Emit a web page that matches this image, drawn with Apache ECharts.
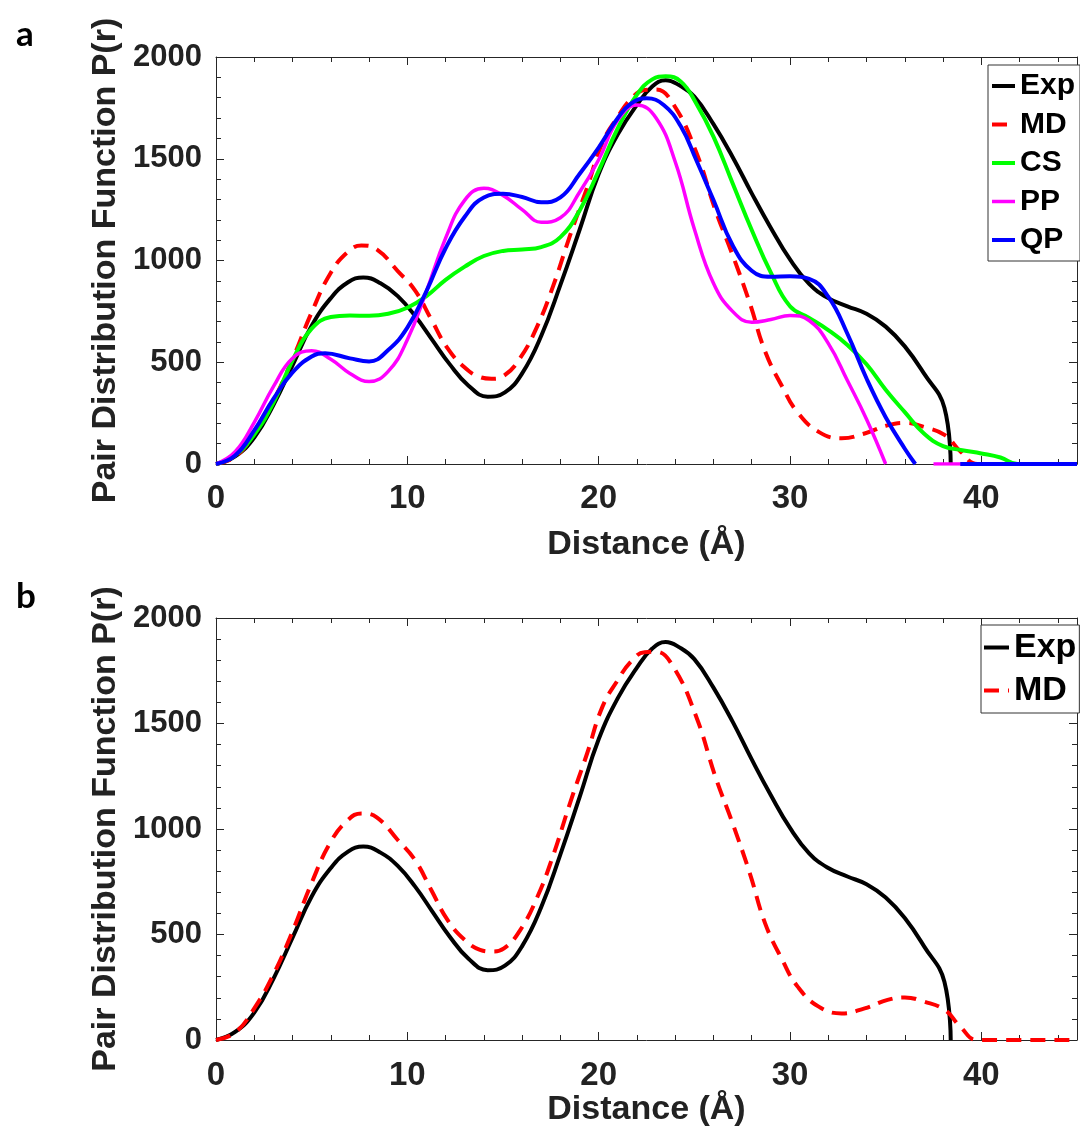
<!DOCTYPE html>
<html><head><meta charset="utf-8">
<script src="https://cdn.jsdelivr.net/npm/echarts@6/dist/echarts.min.js"></script>
<style>html,body{margin:0;padding:0;background:#fff}#c{width:1080px;height:1137px}</style>
</head><body><div id="c"></div>
<script>
// ---- data ----
const expX = [0,1,2,3,4,5,6,6.9,7.7,8.6,9.5,10.4,11.3,12.2,13.2,14.2,15.1,16,17,18,19,20,21,22,22.8,23.5,24.2,25,26,27,28,29,30,31,32,33,34,35,36,37,38.07,38.4];
const expY = [0,38,130,290,485,680,815,893,917,888,825,728,610,492,385,331,352,445,630,880,1150,1425,1620,1765,1855,1886,1862,1805,1670,1509,1330,1160,1005,885,815,775,738,675,578,445,276,0];

const mdX = [0,1,2,3,4,5,6,6.9,7.6,8.4,9.5,10.4,11.25,12.1,13,13.8,14.4,15.05,15.9,16.8,17.6,18.5,19.4,20.2,21,21.7,22.4,23,23.9,25.1,26.1,27,27.9,28.7,29.6,30.4,31.5,32.7,33.9,35.1,36,37,38.1,38.9,39.8,45];
const mdY = [0,35,150,310,515,745,940,1043,1074,1055,948,853,711,569,474,427,419,434,521,679,869,1122,1359,1580,1706,1795,1838,1840,1769,1532,1248,1027,790,553,379,253,158,126,150,190,202,182,142,63,0,0];

const csX = [0,1,2,3,4,5,6,7,8,9,10,11,12,13,14,15,16,17,18,19,20,21,22,22.8,23.5,24.3,25.1,26,27,28,29,30,31,32,33,34,35,36,37,38,39,40,41,41.9,45];
const csY = [0,42,145,300,510,665,722,730,728,738,768,825,905,970,1022,1047,1054,1066,1115,1245,1440,1650,1815,1890,1905,1879,1772,1609,1380,1150,940,775,718,658,585,490,365,255,150,88,68,52,32,0,0];

const ppX = [0,1,2,3,4,5,6,7,8,9,10,11,12,13,14,15,16,17,18,19,20,21,22,23,24,25,26,27,28,29,30,31,32,33,34,35,36.2,37.5,45];
const ppY = [0,60,205,380,520,557,515,445,405,455,610,850,1110,1297,1355,1320,1250,1188,1210,1335,1495,1690,1764,1700,1485,1155,888,750,697,710,730,705,593,410,220,0,null,0,0];

const qpX = [0,1,2,3,4,5,5.7,7,8,9,10,11,12,13,14,15,16,17,18,19,20,21,21.7,22.5,23.4,24.3,25.1,26,27,28,29,30,31,32,33,34,35,36,36.55,37.7,38.9,45];
const qpY = [0,42,165,320,450,528,544,519,504,560,670,850,1060,1215,1310,1328,1312,1286,1310,1425,1555,1700,1772,1797,1764,1658,1494,1297,1075,950,920,922,910,822,640,420,230,75,0,null,0,0];

const xTickLabels = [0,10,20,30,40];
const yTickLabels = [0,500,1000,1500,2000];
const legendA = ['Exp','MD','CS','PP','QP'];
const legendB = ['Exp','MD'];

// ---- chart ----
const SANS = '"Liberation Sans", Arial, Helvetica, sans-serif';
const AX = '#262626';
const zip = (xs, ys) => xs.map((x, i) => [x, ys[i]]);

const grids = [
  {left: 216, top: 57, width: 867, height: 407},
  {left: 216, top: 618, width: 867, height: 422}
];
const xLabelMargin = [18, 19];
const xNameGap = [64, 50];

const xAxis = [];
const yAxis = [];
grids.forEach((g, gi) => {
  const base = {type: 'value', gridIndex: gi, min: 0, max: 45, splitLine: {show: false}};
  xAxis.push(Object.assign({}, base, {
    position: 'bottom', interval: 10,
    name: 'Distance (Å)', nameLocation: 'middle', nameGap: xNameGap[gi],
    nameTextStyle: {fontFamily: SANS, fontWeight: 'bold', fontSize: 34, color: '#222'},
    axisLine: {show: true, onZero: false, lineStyle: {color: AX, width: 1}},
    axisTick: {show: true, inside: true, length: 8, lineStyle: {color: AX, width: 1}},
    axisLabel: {show: true, margin: xLabelMargin[gi], fontFamily: SANS, fontWeight: 'bold', fontSize: 33, color: '#222',
      formatter: v => xTickLabels.indexOf(v) >= 0 ? String(v) : ''}
  }));
  xAxis.push(Object.assign({}, base, {
    position: 'bottom', interval: 2,
    axisLine: {show: false, onZero: false},
    axisTick: {show: true, inside: true, length: 5, lineStyle: {color: AX, width: 1}},
    axisLabel: {show: false}
  }));
  xAxis.push(Object.assign({}, base, {
    position: 'top', interval: 10,
    axisLine: {show: true, onZero: false, lineStyle: {color: AX, width: 1}},
    axisTick: {show: true, inside: true, length: 8, lineStyle: {color: AX, width: 1}},
    axisLabel: {show: false}
  }));
  xAxis.push(Object.assign({}, base, {
    position: 'top', interval: 2,
    axisLine: {show: false, onZero: false},
    axisTick: {show: true, inside: true, length: 5, lineStyle: {color: AX, width: 1}},
    axisLabel: {show: false}
  }));
  const ybase = {type: 'value', gridIndex: gi, min: 0, max: 2000, interval: 500, splitLine: {show: false},
    minorTick: {show: true, splitNumber: 5, length: 5, lineStyle: {color: AX, width: 1}},
    minorSplitLine: {show: false},
    axisTick: {show: true, inside: true, length: 8, lineStyle: {color: AX, width: 1}},
    axisLine: {show: true, onZero: false, lineStyle: {color: AX, width: 1}}};
  yAxis.push(Object.assign({}, ybase, {
    position: 'left',
    name: 'Pair Distribution Function P(r)', nameLocation: 'middle', nameGap: 77, nameRotate: 90,
    nameTextStyle: {fontFamily: SANS, fontWeight: 'bold', fontSize: 34, color: '#222'},
    axisLabel: {show: true, margin: 14, fontFamily: SANS, fontWeight: 'bold', fontSize: 31, color: '#222',
      formatter: v => yTickLabels.indexOf(v) >= 0 ? String(v) : ''}
  }));
  yAxis.push(Object.assign({}, ybase, {position: 'right', axisLabel: {show: false}}));
});

function line(name, xs, ys, color, width, dashed, gi) {
  return {
    type: 'line', name, xAxisIndex: gi * 4, yAxisIndex: gi * 2,
    data: zip(xs, ys), symbol: 'none', showSymbol: false, smooth: 0.45,
    connectNulls: false, clip: true, animation: false,
    lineStyle: {color, width, type: dashed ? [15, 9] : 'solid', cap: 'butt', join: 'round'},
    itemStyle: {color}
  };
}

const series = [
  line('Exp', expX, expY, '#000000', 4, false, 0),
  line('MD', mdX, mdY, '#ff0000', 4, true, 0),
  line('CS', csX, csY, '#00ff00', 4, false, 0),
  line('PP', ppX, ppY, '#ff00ff', 3.5, false, 0),
  line('QP', qpX, qpY, '#0000ff', 4, false, 0),
  line('Exp', expX, expY, '#000000', 4, false, 1),
  line('MD', mdX, mdY, '#ff0000', 4, true, 1)
];

const legendText = (fs, lh) => ({fontFamily: SANS, fontWeight: 'bold', fontSize: fs, lineHeight: lh, color: '#000'});
const legendCommon = {orient: 'vertical', borderColor: '#333', borderWidth: 1, backgroundColor: '#fff', borderRadius: 0,
  selectedMode: false, itemStyle: {opacity: 0, borderWidth: 0}, lineStyle: {width: 'inherit', type: 'inherit'}};

const option = {
  animation: false,
  backgroundColor: '#ffffff',
  title: [
    {text: 'a', left: 11, top: 12, textStyle: {fontFamily: 'Lato, "Open Sans", sans-serif', fontWeight: 'bold', fontSize: 35, color: '#000'}},
    {text: 'b', left: 11, top: 574, textStyle: {fontFamily: 'Lato, "Open Sans", sans-serif', fontWeight: 'bold', fontSize: 35, color: '#000'}}
  ],
  grid: grids,
  xAxis, yAxis,
  legend: [
    Object.assign({}, legendCommon, {data: legendA, left: 988, top: 65, itemWidth: 23, itemHeight: 14, itemGap: 8.5,
     padding: [6, 5, 6, 2], textStyle: legendText(30, 30)}),
    Object.assign({}, legendCommon, {data: legendB, left: 981, top: 625, itemWidth: 25, itemHeight: 14, itemGap: 7,
     padding: [4.5, 3, 4.5, 1], textStyle: legendText(34, 36)})
  ],
  series
};

const chart = echarts.init(document.getElementById('c'), null, {renderer: 'canvas'});
chart.setOption(option);
</script></body></html>
